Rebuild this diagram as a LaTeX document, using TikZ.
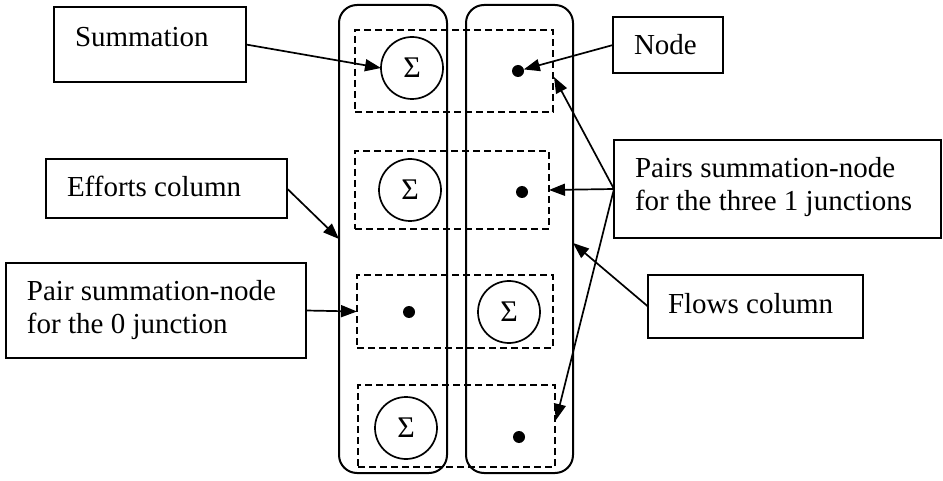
\documentclass[tikz,border=0pt]{standalone}
\usepackage{fontspec}
\setmainfont{Liberation Serif}
\usetikzlibrary{arrows.meta,calc}
\begin{document}
\begin{tikzpicture}[x=1pt,y=-1pt,
  every node/.style={inner sep=0pt, outer sep=0pt},
  colbox/.style={draw, line width=2pt, rounded corners=18pt, minimum height=468pt},
  pairbox/.style={draw, dash pattern=on 7pt off 4pt, line width=1.8pt},
  sumcirc/.style={draw, circle, fill=white, line width=1.7pt, minimum size=62pt, font=\fontsize{30}{30}\selectfont},
  dotnode/.style={fill, circle, minimum size=12pt},
  labelbox/.style={draw, line width=1.7pt},
  labeltext/.style={align=left, font=\fontsize{29}{33}\selectfont},
  conn/.style={line width=1.7pt, -{Triangle[length=16pt,width=12pt]}}
]
\useasboundingbox (0,0) rectangle (943,481);

% effort and flow columns
\node[colbox, minimum width=108pt] (eff) at (393,239) {};
\node[colbox, minimum width=107pt] (flo) at (519.5,239) {};

% summation/node pairs
\node[pairbox, minimum width=198pt, minimum height=82pt] (p1) at (454,71) {};
\node[pairbox, minimum width=194pt, minimum height=78pt] (p2) at (452,190) {};
\node[pairbox, minimum width=196pt, minimum height=73pt] (p3) at (455,311.5) {};
\node[pairbox, minimum width=197pt, minimum height=82pt] (p4) at (456.5,426) {};

\node[sumcirc] (c1) at (412,68) {Σ};
\node[sumcirc] (c2) at (410,190) {Σ};
\node[sumcirc] (c3) at (509,312) {Σ};
\node[sumcirc] (c4) at (406,428) {Σ};

\node[dotnode] (d1) at (518,71) {};
\node[dotnode] (d2) at (522,192) {};
\node[dotnode] (d3) at (409,312) {};
\node[dotnode] (d4) at (519,437) {};

% label frames
\node[labelbox, minimum width=192pt, minimum height=75pt] (summ) at (150,44.5) {};
\node[labelbox, minimum width=241pt, minimum height=59pt] (effb) at (166.5,188.5) {};
\node[labelbox, minimum width=300pt, minimum height=95pt] (zerob) at (156,310.5) {};
\node[labelbox, minimum width=110pt, minimum height=56pt] (nodeb) at (668,45) {};
\node[labelbox, minimum width=327pt, minimum height=98pt] (oneb) at (777.5,189) {};
\node[labelbox, minimum width=215pt, minimum height=63pt] (flob) at (755.5,306.5) {};

% label texts
\node[labeltext, anchor=base west] (summt) at (75,47) {Summation};
\node[labeltext, anchor=base west] (efft) at (67,197) {Efforts column};
\node[labeltext, anchor=north west] (zerot) at (27,280) {Pair summation-node\\for the 0 junction};
\node[labeltext, anchor=base west] (nodet) at (634,55) {Node};
\node[labeltext, anchor=north west] (onet) at (635,157) {Pairs summation-node\\for the three 1 junctions};
\node[labeltext, anchor=base west] (flot) at (668,313) {Flows column};

% connectors
\draw[conn] (summ.east) -- (c1.west);
\draw[conn] (nodeb.west) -- (d1);
\draw[conn] (oneb.west) -- ($(p1.east)+(1,6)$);
\draw[conn] (oneb.west) -- (p2.east);
\draw[conn] (oneb.west) -- ($(p4.east)+(1,-6)$);
\draw[conn] (effb.east) -- (eff.west);
\draw[conn] (zerob.east) -- (p3.west);
\draw[conn] (flob.west) -- ($(flo.east)+(0,4)$);
\end{tikzpicture}
\end{document}
